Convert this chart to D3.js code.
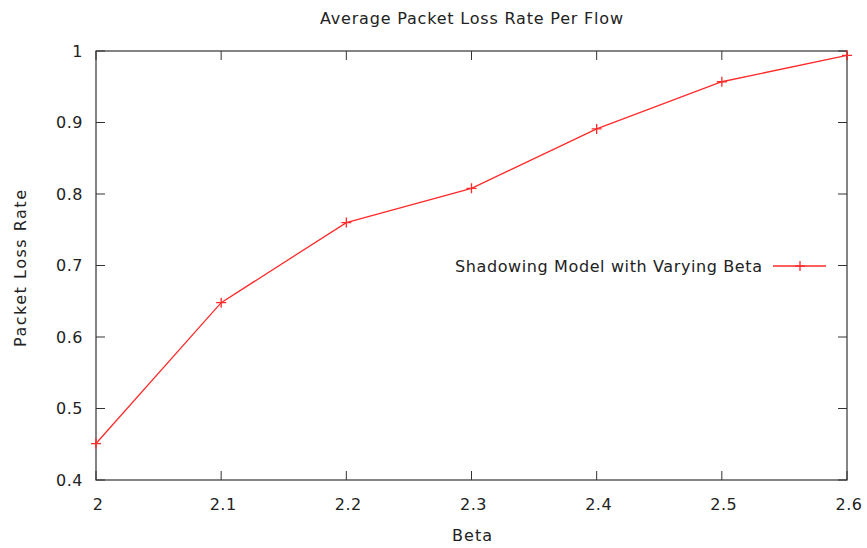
<!DOCTYPE html>
<html>
<script src="https://d3js.org/d3.v7.min.js"></script>

<head>
    <style>
        body {
            margin: 0;
            background-color: #fff;
            font-family: "DejaVu Sans", sans-serif;
        }
        svg text {
            fill: #222;
        }
    </style>
</head>

<body>
</body>
<script>
    const width = 867,
        height = 548;

    const betas = [2.0, 2.1, 2.2, 2.3, 2.4, 2.5, 2.6];
    const lossRates = [0.451, 0.648, 0.760, 0.808, 0.891, 0.957, 0.994];
    const xTicks = [2, 2.1, 2.2, 2.3, 2.4, 2.5, 2.6];
    const yTicks = [0.4, 0.5, 0.6, 0.7, 0.8, 0.9, 1];

    const margin = { left: 96, right: 20, top: 51, bottom: 68 };
    const svg = d3.select("body").append("svg").attr("width", width).attr("height", height);

    const x = d3.scaleLinear().domain([2, 2.6]).range([margin.left, width - margin.right]);
    const y = d3.scaleLinear().domain([0.4, 1]).range([height - margin.bottom, margin.top]);

    const tickLen = 9;
    const axisColor = "#333";

    // frame
    svg.append("rect")
        .attr("x", x(2)).attr("y", y(1))
        .attr("width", x(2.6) - x(2)).attr("height", y(0.4) - y(1))
        .attr("fill", "none").attr("stroke", axisColor).attr("stroke-width", 1.2);

    // inward ticks on all four sides (gnuplot mirror)
    const xt = svg.append("g");
    xTicks.forEach(t => {
        xt.append("line").attr("x1", x(t)).attr("x2", x(t))
            .attr("y1", y(0.4)).attr("y2", y(0.4) - tickLen).attr("stroke", axisColor);
        xt.append("line").attr("x1", x(t)).attr("x2", x(t))
            .attr("y1", y(1)).attr("y2", y(1) + tickLen).attr("stroke", axisColor);
        xt.append("text").attr("x", x(t) + 2).attr("y", y(0.4) + 24)
            .attr("text-anchor", "middle").attr("dominant-baseline", "central")
            .attr("font-size", 16).attr("letter-spacing", 0.5)
            .text(t);
    });
    const yt = svg.append("g");
    yTicks.forEach(t => {
        yt.append("line").attr("x1", x(2)).attr("x2", x(2) + tickLen)
            .attr("y1", y(t)).attr("y2", y(t)).attr("stroke", axisColor);
        yt.append("line").attr("x1", x(2.6)).attr("x2", x(2.6) - tickLen)
            .attr("y1", y(t)).attr("y2", y(t)).attr("stroke", axisColor);
        yt.append("text").attr("x", x(2) - 13).attr("y", y(t))
            .attr("text-anchor", "end").attr("dominant-baseline", "central")
            .attr("font-size", 16).attr("letter-spacing", 0.5)
            .text(t);
    });

    const data = betas.map((b, i) => ({ b, v: lossRates[i] }));
    const red = "#ff2a2a";

    svg.append("path")
        .datum(data)
        .attr("fill", "none").attr("stroke", red).attr("stroke-width", 1.3)
        .attr("d", d3.line().x(d => x(d.b)).y(d => y(d.v)));

    svg.selectAll(".pt")
        .data(data)
        .join("path")
        .attr("class", "pt")
        .attr("d", d => `M${x(d.b) - 5},${y(d.v)}H${x(d.b) + 5}M${x(d.b)},${y(d.v) - 5}V${y(d.v) + 5}`)
        .attr("stroke", red).attr("stroke-width", 1.3).attr("fill", "none");

    // legend
    const ly = 266;
    svg.append("text").attr("x", 762).attr("y", ly).attr("text-anchor", "end")
        .attr("dominant-baseline", "central").attr("font-size", 16)
        .attr("textLength", 307).attr("lengthAdjust", "spacing")
        .text("Shadowing Model with Varying Beta");
    svg.append("line").attr("x1", 773).attr("x2", 826).attr("y1", ly).attr("y2", ly)
        .attr("stroke", red).attr("stroke-width", 1.3);
    svg.append("path").attr("d", `M795,${ly}H805M800,${ly - 5}V${ly + 5}`)
        .attr("stroke", red).attr("stroke-width", 1.3);

    // titles
    svg.append("text").attr("x", 320).attr("y", 18)
        .attr("dominant-baseline", "central").attr("font-size", 16)
        .attr("textLength", 303).attr("lengthAdjust", "spacing")
        .text("Average Packet Loss Rate Per Flow");
    svg.append("text").attr("x", 452).attr("y", 535)
        .attr("dominant-baseline", "central").attr("font-size", 16)
        .attr("textLength", 40).attr("lengthAdjust", "spacing")
        .text("Beta");
    svg.append("text")
        .attr("transform", "translate(20,347) rotate(-90)")
        .attr("dominant-baseline", "central")
        .attr("font-size", 16)
        .attr("textLength", 157).attr("lengthAdjust", "spacing")
        .text("Packet Loss Rate");
</script>

</html>
